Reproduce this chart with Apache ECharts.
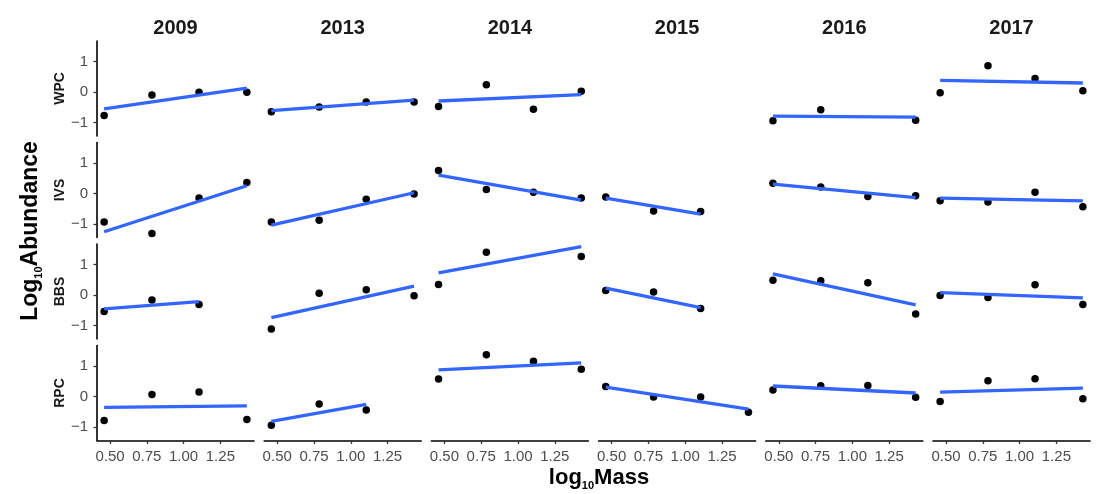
<!DOCTYPE html>
<html>
<head>
<meta charset="utf-8">
<script src="https://cdn.jsdelivr.net/npm/echarts@6/dist/echarts.min.js"></script>
<style>
html,body{margin:0;padding:0;background:#fff;}
#chart{width:1096px;height:494px;}
</style>
</head>
<body>
<div id="chart"></div>
<script>
// ---------- data ----------
const years = ['2009', '2013', '2014', '2015', '2016', '2017'];
const groups = ['WPC', 'IVS', 'BBS', 'RPC'];
const mass = [0.46, 0.785, 1.105, 1.43];
const xTicks = [0.5, 0.75, 1.0, 1.25];
const yTicks = [-1, 0, 1];

// log10 abundance per year (rows) at each mass class (columns); null = no observation
const WPC = [
  [-0.77, -0.09, 0.00, 0.00],
  [-0.64, -0.49, -0.32, -0.32],
  [-0.47, 0.24, -0.56, 0.03],
  [null, null, null, null],
  [-0.94, -0.58, null, -0.92],
  [-0.02, 0.87, 0.45, 0.05]
];
const IVS = [
  [-0.93, -1.31, -0.14, 0.37],
  [-0.93, -0.87, -0.18, -0.01],
  [0.76, 0.14, 0.05, -0.14],
  [-0.11, -0.57, -0.59, null],
  [0.34, 0.22, -0.09, -0.07],
  [-0.23, -0.27, 0.05, -0.43]
];
const BBS = [
  [-0.54, -0.16, -0.31, null],
  [-1.11, 0.06, 0.18, -0.02],
  [0.35, 1.41, null, 1.27],
  [0.15, 0.10, -0.44, null],
  [0.49, 0.47, 0.41, -0.62],
  [-0.01, -0.08, 0.34, -0.31]
];
const RPC = [
  [-0.78, 0.07, 0.15, -0.75],
  [-0.94, -0.24, -0.44, null],
  [0.58, 1.38, 1.16, 0.90],
  [0.33, -0.01, -0.01, -0.51],
  [0.22, 0.36, 0.37, -0.02],
  [-0.16, 0.52, 0.59, -0.07]
];

// fitted line values at first and last observed mass of each panel
const WPC_fit = [[-0.55, 0.13], [-0.61, -0.26], [-0.29, -0.08], null, [-0.79, -0.82], [0.39, 0.30]];
const IVS_fit = [[-1.25, 0.26], [-1.03, 0.03], [0.61, -0.21], [-0.15, -0.67], [0.31, -0.13], [-0.15, -0.24]];
const BBS_fit = [[-0.45, -0.21], [-0.74, 0.30], [0.73, 1.59], [0.23, -0.41], [0.70, -0.32], [0.08, -0.09]];
const RPC_fit = [[-0.35, -0.30], [-0.81, -0.25], [0.88, 1.11], [0.31, -0.41], [0.35, 0.12], [0.15, 0.28]];

const groupPoints = [WPC, IVS, BBS, RPC];
const groupFits = [WPC_fit, IVS_fit, BBS_fit, RPC_fit];

// ---------- layout ----------
const FONT = '"Liberation Sans", Arial, Helvetica, sans-serif';
const colLeft0 = 97, colPitch = 167.2, panelW = 157;
const rowTop0 = 41, rowPitch = 101.5, panelH = 95;
const xMin = 0.4115, xMax = 1.4785;
const yMin = -1.44, yMax = 1.68;

const grids = [], xAxes = [], yAxes = [], series = [], graphics = [];

groups.forEach((g, r) => {
  years.forEach((yr, c) => {
    const idx = r * years.length + c;
    grids.push({
      left: colLeft0 + c * colPitch, top: rowTop0 + r * rowPitch,
      width: panelW, height: panelH, containLabel: false
    });
    xAxes.push({
      type: 'value', gridIndex: idx, min: xMin, max: xMax, show: r === groups.length - 1,
      axisLine: { show: true, onZero: false, lineStyle: { color: '#000', width: 1.6 } },
      axisTick: { show: true, customValues: xTicks, length: 3.5, lineStyle: { color: '#333', width: 1.3 } },
      axisLabel: { customValues: xTicks, formatter: v => v.toFixed(2), fontSize: 15, color: '#4d4d4d', margin: 9, fontFamily: FONT },
      splitLine: { show: false }
    });
    yAxes.push({
      type: 'value', gridIndex: idx, min: yMin, max: yMax, show: c === 0,
      axisLine: { show: true, onZero: false, lineStyle: { color: '#000', width: 1.6 } },
      axisTick: { show: true, customValues: yTicks, length: 3.5, lineStyle: { color: '#333', width: 1.3 } },
      axisLabel: { customValues: yTicks, formatter: v => String(v).replace('-', '\u2212'), fontSize: 15, color: '#4d4d4d', margin: 9, fontFamily: FONT },
      splitLine: { show: false }
    });

    const vals = groupPoints[r][c];
    const pts = [];
    vals.forEach((v, i) => { if (v !== null) pts.push([mass[i], v]); });
    if (pts.length) {
      series.push({
        type: 'scatter', xAxisIndex: idx, yAxisIndex: idx, data: pts,
        symbol: 'circle', symbolSize: 7.5, itemStyle: { color: '#000', opacity: 1 }, z: 2, silent: true
      });
    }
    const fit = groupFits[r][c];
    if (fit && pts.length) {
      const xs = pts.map(p => p[0]);
      series.push({
        type: 'line', xAxisIndex: idx, yAxisIndex: idx,
        data: [[Math.min(...xs), fit[0]], [Math.max(...xs), fit[1]]],
        symbol: 'none', lineStyle: { color: '#3366FF', width: 3.3 }, z: 3, silent: true
      });
    }
  });
  // row strip label
  graphics.push({
    type: 'text', x: 60, y: rowTop0 + r * rowPitch + panelH / 2, rotation: Math.PI / 2,
    style: { text: g, font: 'bold 14px ' + FONT, fill: '#1a1a1a', textAlign: 'center', textVerticalAlign: 'middle' }
  });
});

years.forEach((yr, c) => {
  graphics.push({
    type: 'text', x: colLeft0 + c * colPitch + panelW / 2, y: 28,
    style: { text: yr, font: 'bold 20px ' + FONT, fill: '#1a1a1a', textAlign: 'center', textVerticalAlign: 'middle' }
  });
});

// axis titles with subscripts
graphics.push({
  type: 'text', x: 31, y: 231, rotation: Math.PI / 2,
  style: {
    text: '{b|Log}{s|10}{b|Abundance}', textAlign: 'center', textVerticalAlign: 'middle',
    rich: {
      b: { fontSize: 23, fontWeight: 'bold', fontFamily: FONT, fill: '#000', lineHeight: 26 },
      s: { fontSize: 11, fontWeight: 'bold', fontFamily: FONT, fill: '#000', lineHeight: 26, verticalAlign: 'bottom' }
    }
  }
});
graphics.push({
  type: 'text', x: 599, y: 478,
  style: {
    text: '{b|log}{s|10}{b|Mass}', textAlign: 'center', textVerticalAlign: 'middle',
    rich: {
      b: { fontSize: 22, fontWeight: 'bold', fontFamily: FONT, fill: '#000', lineHeight: 26 },
      s: { fontSize: 11, fontWeight: 'bold', fontFamily: FONT, fill: '#000', lineHeight: 26, verticalAlign: 'bottom' }
    }
  }
});

const chart = echarts.init(document.getElementById('chart'), null, { renderer: 'canvas' });
chart.setOption({
  animation: false,
  backgroundColor: '#fff',
  textStyle: { fontFamily: FONT },
  grid: grids, xAxis: xAxes, yAxis: yAxes, series: series, graphic: graphics
});
</script>
</body>
</html>
